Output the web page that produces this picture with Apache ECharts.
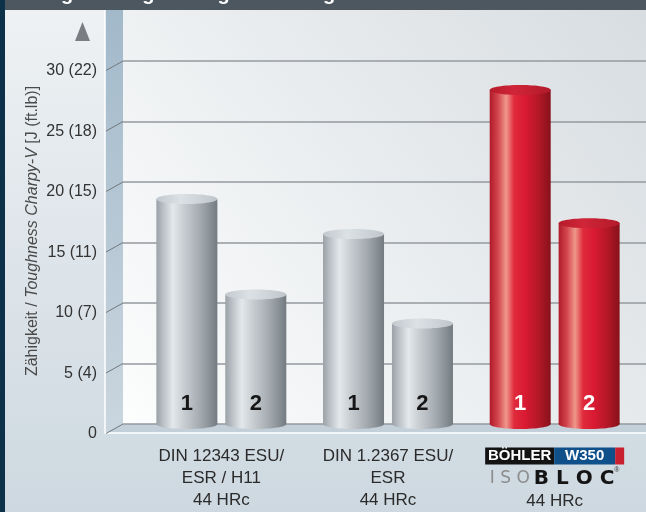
<!DOCTYPE html>
<html>
<head>
<meta charset="utf-8">
<script src="https://cdn.jsdelivr.net/npm/echarts@6.0.0/dist/echarts.min.js"></script>
<style>
  html, body { margin: 0; padding: 0; }
  #chart { width: 646px; height: 512px; }
</style>
</head>
<body>
<div id="chart"></div>
<script>
// data
const categories = ['DIN 12343 ESU/\nESR / H11\n44 HRc', 'DIN 1.2367 ESU/\nESR\n44 HRc', 'BÖHLER W350\nISOBLOC\n44 HRc']
const seriesNames = ['1', '2']
const values1 = [18.6, 15.7, 27.6]
const values2 = [10.7, 8.3, 16.6]
const yTicks = [0, 5, 10, 15, 20, 25, 30]
const yTickLabels = ['0', '5 (4)', '10 (7)', '15 (11)', '20 (15)', '25 (18)', '30 (22)']
const yName = 'Zähigkeit / {it|Toughness Charpy-V} [J (ft.lb)]'
const titleText = 'Zähigkeit längs / Toughness longitudinal'

const font = 'Liberation Sans, Arial, sans-serif'
const chart = echarts.init(document.getElementById('chart'), null, { renderer: 'canvas' })

function hGrad(stops) {
    return new echarts.graphic.LinearGradient(0, 0, 1, 0, stops.map(c => ({ offset: c[0], color: c[1] })))
}
const grayBody = () => hGrad([[0, '#9aa1a7'], [0.1, '#b7bdc2'], [0.27, '#e4e8eb'], [0.45, '#c8cdd1'], [0.7, '#a6adb2'], [0.9, '#858d93'], [1, '#737b81']])
const redBody = () => hGrad([[0, '#b01a29'], [0.14, '#d4474f'], [0.27, '#ef988b'], [0.4, '#e02a3b'], [0.58, '#d91a32'], [0.82, '#b01726'], [1, '#86121b']])
const grayTop = () => hGrad([[0, '#c2c9ce'], [0.4, '#dce1e5'], [1, '#bfc6cb']])
const redTop = () => hGrad([[0, '#b51b2a'], [0.4, '#d02538'], [1, '#b21a29']])

const barWidth = 61
const gapRatio = 0.13
const capH = 10

function bodyData(vals) {
    return vals.map((v, i) => ({
        value: v,
        itemStyle: { color: i === 2 ? redBody() : grayBody() },
        label: { color: i === 2 ? '#ffffff' : '#161616' },
    }))
}

const series = []
;[values1, values2].forEach((vals, k) => {
    series.push({
        type: 'bar',
        name: seriesNames[k],
        xAxisIndex: 1,
        yAxisIndex: 1,
        barWidth,
        barGap: gapRatio * 100 + '%',
        z: 3,
        data: bodyData(vals),
        label: {
            show: true,
            position: 'insideBottom',
            distance: 9,
            formatter: p => p.seriesName,
            fontSize: 22,
            fontWeight: 'bold',
            fontFamily: font,
        },
    })
})

// ellipse caps (top and bottom) of the cylinders
;[values1, values2].forEach((vals, k) => {
    const shift = (k === 0 ? -1 : 1) * barWidth * (1 + gapRatio) / 2
    ;['bottom', 'top'].forEach(side => {
        series.push({
            type: 'custom',
            name: seriesNames[k],
            xAxisIndex: 1,
            yAxisIndex: 1,
            silent: true,
            z: side === 'top' ? 4 : 2,
            data: vals.map((v, i) => [i, v]),
            renderItem(params, api) {
                const i = api.value(0)
                const p = api.coord([i, side === 'top' ? api.value(1) : 0])
                const red = i === 2
                const fill = side === 'top' ? (red ? redTop() : grayTop()) : (red ? redBody() : grayBody())
                return {
                    type: 'ellipse',
                    shape: { cx: p[0] + shift, cy: p[1], rx: barWidth / 2, ry: capH / 2 },
                    style: { fill },
                }
            },
        })
    })
})

// slanted tick lines on the side wall
series.push({
    type: 'custom',
    xAxisIndex: 0,
    yAxisIndex: 0,
    silent: true,
    z: 1,
    data: yTicks.map(v => [0, v]),
    renderItem(params, api) {
        const p = api.coord([0, api.value(1)])
        return {
            type: 'line',
            shape: { x1: p[0] - 17, y1: p[1] + 9.5, x2: p[0], y2: p[1] },
            style: { stroke: '#72787d', lineWidth: 1 },
        }
    },
})

chart.setOption({
    animation: false,
    graphic: [
        {
            type: 'rect', z: -10, silent: true,
            shape: { x: 0, y: 0, width: 646, height: 512 },
            style: { fill: new echarts.graphic.LinearGradient(0, 0, 0, 1, [{ offset: 0, color: '#eff2f4' }, { offset: 1, color: '#cdd8e0' }]) },
        },
        {
            type: 'rect', z: -9, silent: true,
            shape: { x: 123, y: 10, width: 523, height: 414 },
            style: { fill: new echarts.graphic.LinearGradient(0, 1, 1, 0, [{ offset: 0, color: '#fcfdfd' }, { offset: 1, color: '#d8dde1' }]) },
        },
        {
            type: 'polygon', z: -9, silent: true,
            shape: { points: [[105, 10], [123, 10], [123, 424], [105, 433]] },
            style: { fill: new echarts.graphic.LinearGradient(0, 0, 0, 1, [{ offset: 0, color: '#a2b9ca' }, { offset: 1, color: '#cad6df' }]) },
        },
        {
            type: 'polygon', z: -9, silent: true,
            shape: { points: [[105, 433], [123, 424], [646, 424], [646, 433]] },
            style: { fill: '#c3d0da' },
        },
        {
            type: 'polyline', z: -8, silent: true,
            shape: { points: [[105, 10], [105, 433], [646, 433]] },
            style: { stroke: '#ffffff', lineWidth: 1.5, fill: null },
        },
        {
            type: 'rect', z: 50, silent: true,
            shape: { x: 0, y: 0, width: 646, height: 10 },
            style: { fill: '#4c5760' },
        },
        {
            type: 'text', z: 51, silent: true,
            x: 20, y: 4,
            style: { text: titleText, fill: '#ffffff', font: 'bold 20px ' + font, verticalAlign: 'bottom' },
        },
        {
            type: 'rect', z: 52, silent: true,
            shape: { x: 0, y: 0, width: 5, height: 512 },
            style: { fill: '#0c3148' },
        },
        {
            type: 'polygon', z: 50, silent: true,
            shape: { points: [[75, 41], [90, 41], [82.5, 22]] },
            style: { fill: '#7a7e83' },
        },
        {
            type: 'text', z: 50, silent: true,
            x: 33, y: 231, rotation: Math.PI / 2,
            style: {
                text: yName,
                fill: '#4a4a4a',
                font: '16px ' + font,
                align: 'center',
                verticalAlign: 'middle',
                rich: { it: { fontStyle: 'italic', fontSize: 16, fill: '#4a4a4a', fontFamily: font } },
            },
        },
    ],
    grid: [
        { left: 123, right: 0, top: 61, bottom: 88 },
        { left: 138, right: 8, top: 61, bottom: 88 },
    ],
    xAxis: [
        { type: 'value', gridIndex: 0, min: 0, max: 1, show: false },
        {
            type: 'category',
            gridIndex: 1,
            data: categories,
            axisLine: { show: false },
            axisTick: { show: false },
            axisLabel: {
                interval: 0,
                margin: 21,
                color: '#2b2b2b',
                fontSize: 17,
                lineHeight: 22,
                fontFamily: font,
                formatter(val, idx) {
                    if (idx !== 2) return val
                    return '{bk|BÖHLER}{bl|W350}{rd|}\n{iso|I S O}{bloc|B L O C}{reg|®}\n{hrc|44 HRc}'
                },
                rich: {
                    bk: { color: '#fff', backgroundColor: '#131313', fontSize: 15, fontWeight: 'bold', fontFamily: font, width: 69, height: 17, align: 'center', lineHeight: 22 },
                    bl: { color: '#fff', backgroundColor: '#0f4f8a', fontSize: 15, fontWeight: 'bold', fontFamily: font, width: 61, height: 17, align: 'center', lineHeight: 22 },
                    rd: { backgroundColor: '#c8202f', width: 9, height: 17, lineHeight: 22 },
                    iso: { color: '#8c8c8c', fontSize: 17, fontFamily: 'DejaVu Sans', lineHeight: 23, padding: [0, 4, 0, 0] },
                    bloc: { color: '#141414', fontSize: 20, fontWeight: 'bold', fontFamily: 'DejaVu Sans', lineHeight: 23 },
                    reg: { color: '#333', fontSize: 7, fontFamily: font, lineHeight: 23, verticalAlign: 'top' },
                    hrc: { color: '#2b2b2b', fontSize: 17, fontFamily: font, lineHeight: 22 },
                },
            },
        },
    ],
    yAxis: [
        {
            type: 'value',
            gridIndex: 0,
            min: 0,
            max: 30,
            interval: 5,
            axisLine: { show: false },
            axisTick: { show: false },
            splitLine: { lineStyle: { color: '#959a9f', width: 1.5 } },
            axisLabel: {
                margin: 26,
                verticalAlign: 'top',
                lineHeight: 20,
                color: '#333333',
                fontSize: 16,
                fontFamily: font,
                formatter: v => yTickLabels[yTicks.indexOf(v)],
            },
        },
        { type: 'value', gridIndex: 1, min: 0, max: 30, interval: 5, show: false },
    ],
    series,
})
</script>
</body>
</html>
